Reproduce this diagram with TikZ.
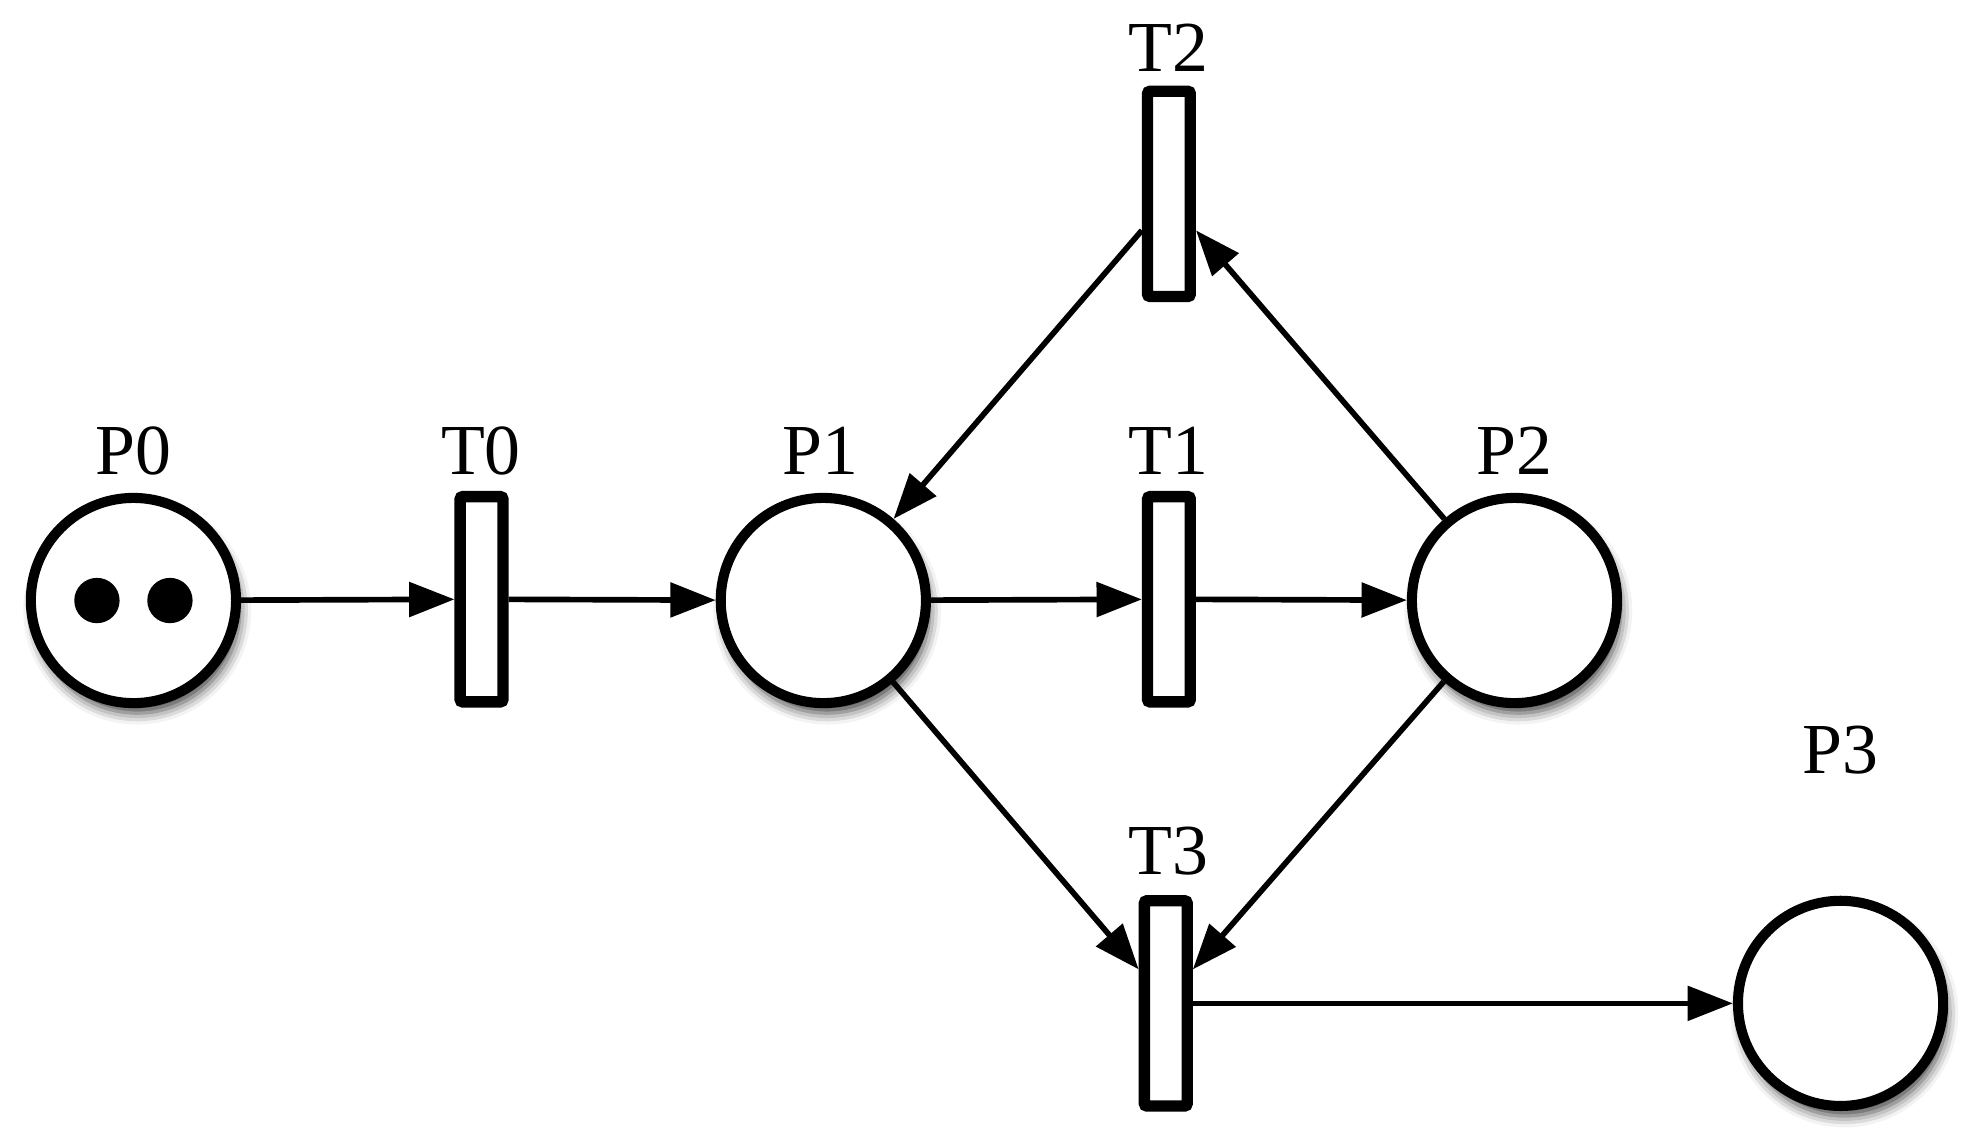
\documentclass[tikz,border=0pt]{standalone}
\usepackage{fontspec}
\setmainfont{Liberation Serif}
\usetikzlibrary{arrows.meta,shadows.blur}
\begin{document}
\begin{tikzpicture}[x=1pt,y=-1pt,
 place/.style={circle,draw,line width=8pt,minimum size=163pt,inner sep=0pt,fill=white,
   blur shadow={shadow xshift=3pt,shadow yshift=-8pt,shadow blur radius=9pt,shadow opacity=75}},
 trans/.style={rectangle,draw,line width=9pt,minimum width=34pt,minimum height=163pt,inner sep=0pt,fill=white,rounded corners=2pt},
 lbl/.style={font=\fontsize{57}{60}\selectfont,inner sep=0pt},
 arc/.style={line width=4.5pt,-{Triangle[length=36pt,width=27pt]}},
 token/.style={circle,fill=black,minimum size=36pt,inner sep=0pt}]
\useasboundingbox (0,0) rectangle (1568,910);
% places
\node[place] (P0) at (106,477) {};
\node[place] (P1) at (654,477) {};
\node[place] (P2) at (1203,477) {};
\node[place] (P3) at (1462,797) {};
\node[token] (k1) at (77,477) {};
\node[token] (k2) at (135,477) {};
% transitions
\node[trans] (T0) at (382.5,476) {};
\node[trans] (T1) at (928.5,476) {};
\node[trans] (T2) at (928.5,154) {};
\node[trans] (T3) at (926,797) {};
% labels
\node[lbl] (lP0) at (106,358) {P0};
\node[lbl] (lT0) at (382,358) {T0};
\node[lbl] (lP1) at (652,358) {P1};
\node[lbl] (lT1) at (928,358) {T1};
\node[lbl] (lP2) at (1203,358) {P2};
\node[lbl] (lT2) at (928,38) {T2};
\node[lbl] (lT3) at (928,676) {T3};
\node[lbl] (lP3) at (1462,596) {P3};
% anchor points on transitions
\coordinate (T2in) at ([yshift=-29pt]T2.east);
\coordinate (T2out) at ([yshift=-29pt]T2.west);
\coordinate (T3inL) at ([yshift=27pt]T3.west);
\coordinate (T3inR) at ([yshift=27pt]T3.east);
% arcs
\draw[arc] (P0) -- (T0);
\draw[arc] (T0) -- (P1);
\draw[arc] (P1) -- (T1);
\draw[arc] (T1) -- (P2);
\draw[arc] (P2) -- (T2in);
\draw[arc] (T2out) -- (P1);
\draw[arc] (P1) -- (T3inL);
\draw[arc] (P2) -- (T3inR);
\draw[arc] (T3) -- (P3);
\end{tikzpicture}
\end{document}
